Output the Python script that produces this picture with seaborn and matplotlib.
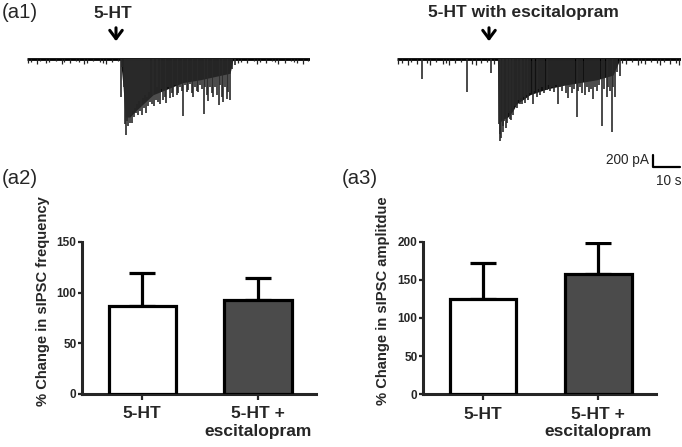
import matplotlib

matplotlib.use("Agg")

import matplotlib.pyplot as plt
import pandas as pd
import seaborn as sns

sns.set_style("ticks")
plt.rcParams["font.family"] = ["Liberation Sans", "DejaVu Sans"]

# ── data ──────────────────────────────────────────────────────────────────────
conditions = ["5-HT", "5-HT +\nescitalopram"]
freq_mean = [87, 93]
freq_sem = [32, 21.5]
amp_mean = [125, 158]
amp_sem = [47.5, 40.5]
bar_colors = ["white", "#4b4b4b"]

# trace (a1): 5-HT alone — event times (s) and amplitudes (pA, downward)
ev1_t = [34.7, 35.2, 35.9, 36.3, 36.7, 37.0, 37.4, 37.8, 38.1, 38.5, 38.9, 39.3,
         39.6, 40.0, 40.4, 40.7, 41.1, 41.5, 41.9, 42.2, 42.6, 43.0, 43.3, 43.7,
         44.1, 44.4, 44.8, 45.2, 45.6, 46.3, 46.7, 47.0, 47.8, 48.1, 48.5, 49.3,
         49.6, 50.4, 51.1, 51.5, 52.2, 53.0, 53.7, 54.1, 54.8, 55.6, 55.9, 56.7,
         57.4, 57.8, 58.5, 59.3, 59.6, 60.4, 61.1, 61.5, 62.2, 63.0, 63.3, 64.1,
         64.8, 65.6, 65.9, 66.7, 67.0, 67.8, 68.5, 68.9, 69.6, 70.4, 71.1, 71.5,
         72.2, 72.6, 73.3, 74.0, 74.4, 75.2, 75.9, 77.0]
ev1_a = [615, 120, 450, 1050, 1215, 990, 1080, 930, 1020, 900, 1020, 825,
         930, 780, 870, 720, 900, 675, 825, 750, 900, 630, 780, 570,
         870, 600, 750, 525, 690, 720, 570, 750, 660, 450, 690, 720,
         480, 660, 600, 705, 450, 630, 540, 600, 420, 570, 540, 450,
         510, 915, 420, 525, 495, 390, 540, 600, 450, 510, 525, 420,
         480, 885, 450, 570, 675, 450, 540, 600, 450, 570, 735, 420,
         600, 690, 450, 645, 525, 660, 150, 90]
# dense burst envelope
env1_t = [34.6, 35.6, 36.3, 38.1, 40.4, 43.0, 46.7, 51.9, 57.8, 64.1, 70.4, 75.2, 76.3]
env1_a = [0, 450, 930, 930, 825, 720, 570, 480, 375, 330, 270, 225, 0]
noise1_t = [0.3, 1.6, 3.7, 4.9, 7.2, 8.1, 10.7, 12.9, 13.8, 15.9, 18.2, 19.4,
            21.1, 22.3, 24.6, 26.9, 28, 29.2, 31.5, 33.6, 78, 79.2, 81.5, 83.9,
            85, 86.2, 88.4, 90.8, 91.9, 93.1, 95.4, 97.7, 98.8, 100.1, 102.3, 104]
noise1_a = [60, 45, 75, 30, 60, 45, 30, 75, 45, 60, 30, 45, 75, 60, 30, 45, 60,
            75, 45, 30, 60, 45, 60, 30, 75, 45, 60, 30, 45, 75, 60, 30, 45, 60,
            75, 30]
dur1 = 104.8

# trace (a3 top): 5-HT with escitalopram
ev2_t = [9.1, 25.9, 34.7, 37.6, 38.0, 38.3, 38.7, 39.1, 39.4, 39.8, 40.2, 40.6,
         40.9, 41.3, 41.7, 42.0, 42.4, 42.8, 43.1, 43.7, 44.3, 44.8, 45.4, 45.9,
         46.3, 46.9, 47.4, 48.0, 48.5, 49.3, 50.2, 50.7, 51.7, 52.2, 53.0, 53.7,
         54.4, 55.4, 55.9, 56.7, 57.4, 58.1, 58.9, 59.7, 60.4, 61.1, 61.9, 62.6,
         63.3, 64.1, 64.8, 65.6, 66.6, 67.0, 67.8, 68.5, 69.6, 70.4, 71.1, 71.9,
         72.7, 73.3, 74.1, 74.8, 76.0, 76.7, 77.7, 78.1, 78.9, 79.5, 80.0, 80.7,
         81.5, 82.6]
ev2_a = [315, 525, 225, 1050, 1320, 1200, 1275, 1080, 1170, 990, 1110, 930,
         1020, 870, 960, 825, 975, 780, 900, 750, 780, 660, 720, 630,
         720, 600, 705, 570, 660, 540, 720, 510, 600, 480, 570, 450,
         540, 495, 420, 510, 450, 525, 420, 720, 450, 510, 420, 540,
         630, 450, 540, 480, 930, 510, 450, 540, 570, 450, 525, 480,
         645, 450, 510, 420, 1080, 480, 600, 450, 510, 1170, 450, 600,
         210, 270]
env2_t = [37.2, 37.6, 38.9, 41.1, 43.0, 44.3, 49.3, 55.4, 61.5, 67.8, 74.0, 80.0, 82.6]
env2_a = [0, 1050, 975, 930, 825, 720, 570, 480, 420, 375, 330, 255, 0]
noise2_t = [0.4, 1.7, 3.9, 5.1, 7.4, 11, 12.2, 14.5, 16.9, 18, 19.3, 21.5, 23.8,
            27.8, 29.1, 31.3, 33.5, 36, 83.5, 84.8, 87, 89.3, 90.5, 91.8, 94,
            96.3, 97.5, 98.8, 101, 103.3, 104.5]
noise2_a = [75, 60, 90, 45, 75, 60, 90, 45, 75, 60, 90, 60, 45, 75, 90, 60, 45,
            75, 60, 75, 45, 90, 60, 75, 45, 60, 90, 45, 75, 60, 90]
dur2 = 105.2

W, H = 682, 447
fig = plt.figure(figsize=(W / 100, H / 100), dpi=100)


def fx(px):
    return px / W


def fy(py):
    return 1 - py / H


# ── traces ────────────────────────────────────────────────────────────────────
def draw_trace(rect, dur, ev_t, ev_a, env_t, env_a, nz_t, nz_a):
    ax = fig.add_axes(rect)
    ax.set_xlim(0, dur)
    ax.set_ylim(-2025, 150)
    ax.axis("off")
    ax.fill_between(env_t, [-a for a in env_a], 0, color="#111111", lw=0)
    ax.plot([0, dur], [0, 0], color="black", lw=2.0, solid_capstyle="butt")
    ax.vlines(nz_t, [-a for a in nz_a], 0, color="#222222", lw=0.9)
    ax.vlines(ev_t, [-a for a in ev_a], 0, color="#2a2a2a", lw=1.2)
    return ax


ax_t1 = draw_trace([fx(27), fy(185), fx(283), 135 / H], dur1,
                   ev1_t, ev1_a, env1_t, env1_a, noise1_t, noise1_a)
ax_t2 = draw_trace([fx(397), fy(185), fx(284), 135 / H], dur2,
                   ev2_t, ev2_a, env2_t, env2_a, noise2_t, noise2_a)

for label, tx, ty, axx in [("5-HT", 112.5, 14, 116),
                           ("5-HT with escitalopram", 523.5, 12, 489)]:
    fig.text(fx(tx), fy(ty), label, ha="center", va="center",
             fontsize=12.5, fontweight="bold")
    fig.add_artist(matplotlib.patches.FancyArrowPatch(
        (fx(axx), fy(25)), (fx(axx), fy(44)), transform=fig.transFigure,
        arrowstyle="->,head_length=6,head_width=4.5", lw=2.2, color="black",
        mutation_scale=1))

# scale bar: 200 pA / 10 s
ax_t2.plot([94.8, 94.8, 104.8], [-1540, -1740, -1740], color="black", lw=1.6,
           clip_on=False)
ax_t2.text(93.3, -1620, "200 pA", ha="right", va="center", fontsize=9.8)
ax_t2.text(105.2, -1960, "10 s", ha="right", va="center", fontsize=9.8)

# ── bar charts ────────────────────────────────────────────────────────────────
def draw_bars(rect, means, sems, ymax, ystep, ylabel, label_x):
    ax = fig.add_axes(rect)
    df = pd.DataFrame({"cond": conditions, "mean": means})
    sns.barplot(df, x="cond", y="mean", hue="cond", palette=bar_colors,
                edgecolor="black", linewidth=2.3, width=0.58, legend=False,
                errorbar=None, ax=ax, zorder=3)
    ax.errorbar([0, 1], means, yerr=[[0, 0], sems], fmt="none", ecolor="black",
                elinewidth=2.3, capsize=9.5, capthick=2.3, zorder=2)
    ax.set_xlim(-0.52, 1.5)
    ax.set_ylim(0, ymax)
    ax.set_yticks(range(0, ymax + 1, ystep))
    ax.set_xlabel("")
    ax.set_ylabel("")
    sns.despine(ax=ax)
    for side in ["left", "bottom"]:
        ax.spines[side].set_linewidth(2.2)
    ax.tick_params(axis="y", length=3, width=1.6, pad=1, labelsize=8.5)
    ax.tick_params(axis="x", length=4, width=1.6, pad=5, labelsize=12.5)
    for t in ax.get_yticklabels() + ax.get_xticklabels():
        t.set_fontweight("bold")
    fig.text(fx(label_x), fy(301), ylabel, rotation=90, ha="center",
             va="center", fontsize=10.6, fontweight="bold")
    return ax


draw_bars([fx(82), fy(394), fx(234), 152 / H], freq_mean, freq_sem, 150, 50,
          "% Change in sIPSC frequency", 43)
draw_bars([fx(423), fy(394.3), fx(233), 152.6 / H], amp_mean, amp_sem, 200, 50,
          "% Change in sIPSC amplitdue", 383)

for lab, px, py in [("(a1)", 2, 13), ("(a2)", 2, 178), ("(a3)", 342, 178)]:
    fig.text(fx(px), fy(py), lab, ha="left", va="center", fontsize=14.6)

fig.savefig("out.png", dpi=100)
